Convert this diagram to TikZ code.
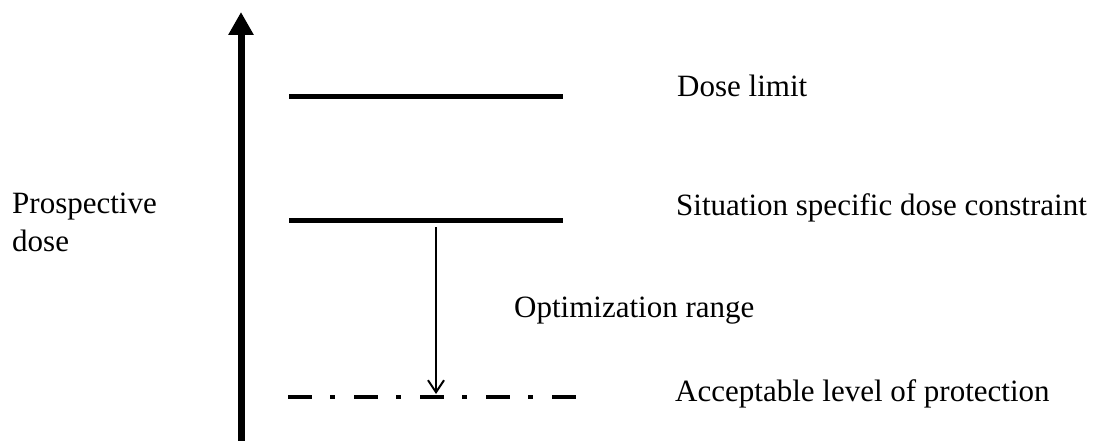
\documentclass[tikz,border=0pt]{standalone}
\usepackage{fontspec}
\setmainfont{Liberation Serif}
\usetikzlibrary{arrows.meta}

\begin{document}
\begin{tikzpicture}[x=1pt,y=-1pt,line cap=butt]
  \tikzstyle{tag}=[anchor=base west,inner sep=0pt,font=\fontsize{31}{38}\selectfont]
  \tikzstyle{level}=[line width=5pt]
  \tikzstyle{accept}=[line width=3.7pt,dash pattern=on 24pt off 18pt on 5pt off 19pt]

  \useasboundingbox (0,0) rectangle (1094,441);

  \coordinate (bottom) at (241,441);
  \coordinate (top)    at (241,12);
  \coordinate (limitL) at (289,97);
  \coordinate (limitR) at (563,97);
  \coordinate (constL) at (289,220);
  \coordinate (constR) at (563,220);
  \coordinate (protL)  at (288,397);
  \coordinate (protR)  at (577,397);
  \coordinate (optS)   at (436,227);
  \coordinate (optE)   at (436,394);

  \node[tag] (pros)  at (12,213)  {Prospective};
  \node[tag] (dose)  at (12,251)  {dose};
  \node[tag] (limit) at (677,97)  {Dose limit};
  \node[tag] (const) at (676,215) {Situation specific dose constraint};
  \node[tag] (optim) at (514,317) {Optimization range};
  \node[tag] (prot)  at (675,401) {Acceptable level of protection};

  \draw[line width=7pt,-{Triangle[width=24pt,length=23pt]}] (bottom) -- (top);
  \draw[level] (limitL) -- (limitR);
  \draw[level] (constL) -- (constR);
  \draw[accept] (protL) -- (protR);
  \draw[line width=1.5pt,-{Straight Barb[length=12pt,width=16pt,line width=2pt]}] (optS) -- (optE);

\end{tikzpicture}
\end{document}
